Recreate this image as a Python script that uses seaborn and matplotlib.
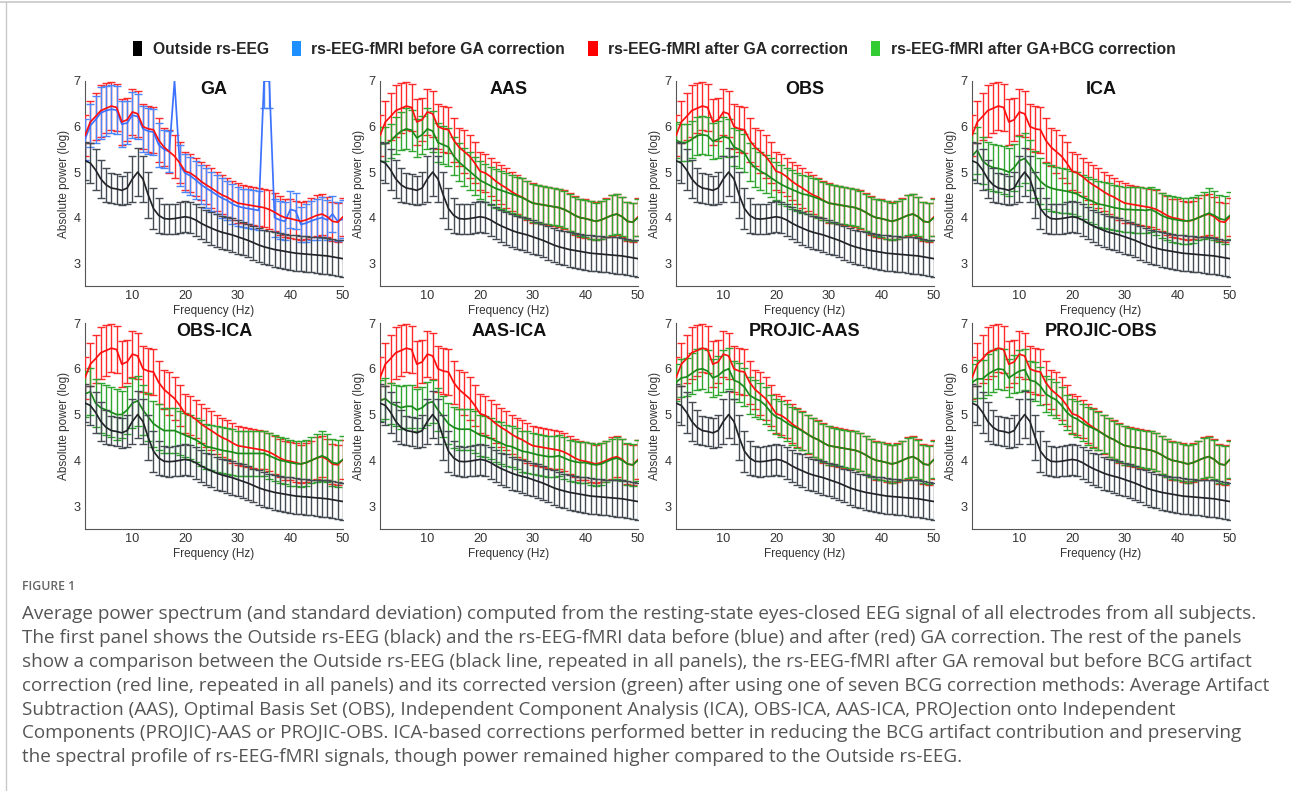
import numpy as np
import pandas as pd
import matplotlib
matplotlib.use("Agg")
import matplotlib.pyplot as plt
import seaborn as sns
from matplotlib.patches import Patch
from matplotlib.lines import Line2D

# --- data (log absolute power, 1..50 Hz) ---
freqs = list(range(1, 51))

outside_mean = [5.25, 5.2, 5.05, 4.85, 4.72, 4.65, 4.63, 4.6, 4.65, 4.85,
                5.0, 4.85, 4.5, 4.2, 4.05, 3.98, 3.97, 3.98, 4.0, 4.02,
                4.0, 3.95, 3.88, 3.82, 3.77, 3.72, 3.68, 3.65, 3.62, 3.58,
                3.54, 3.5, 3.45, 3.4, 3.36, 3.33, 3.3, 3.28, 3.26, 3.24,
                3.22, 3.21, 3.2, 3.19, 3.18, 3.17, 3.16, 3.14, 3.12, 3.1]
outside_sd = [0.42, 0.43, 0.45, 0.42, 0.37, 0.32, 0.32, 0.32, 0.35, 0.5,
              0.52, 0.5, 0.5, 0.45, 0.38, 0.33, 0.33, 0.33, 0.34, 0.34,
              0.34, 0.35, 0.35, 0.35, 0.36, 0.36, 0.36, 0.36, 0.37, 0.37,
              0.37, 0.37, 0.37, 0.38, 0.38, 0.38, 0.38, 0.38, 0.38, 0.39,
              0.39, 0.39, 0.39, 0.39, 0.39, 0.4, 0.4, 0.4, 0.4, 0.4]

after_ga_mean = [5.8, 6.1, 6.22, 6.35, 6.4, 6.45, 6.42, 6.1, 6.15, 6.32,
                 6.28, 6.0, 5.95, 5.93, 5.7, 5.55, 5.45, 5.35, 5.2, 5.02,
                 4.98, 4.9, 4.8, 4.72, 4.65, 4.57, 4.5, 4.45, 4.38, 4.32,
                 4.3, 4.28, 4.26, 4.24, 4.22, 4.18, 4.12, 4.05, 4.0, 3.98,
                 3.95, 3.92, 3.95, 4.0, 4.05, 4.08, 4.02, 3.92, 3.9, 4.02]
after_ga_sd = [0.45, 0.47, 0.52, 0.57, 0.55, 0.53, 0.52, 0.5, 0.47, 0.5,
               0.5, 0.5, 0.5, 0.5, 0.48, 0.42, 0.47, 0.47, 0.45, 0.42,
               0.42, 0.42, 0.42, 0.43, 0.43, 0.43, 0.43, 0.43, 0.43, 0.43,
               0.42, 0.42, 0.42, 0.42, 0.42, 0.42, 0.42, 0.42, 0.42, 0.42,
               0.42, 0.42, 0.42, 0.43, 0.45, 0.45, 0.44, 0.43, 0.43, 0.42]

before_ga_mean = [5.72, 6.02, 6.15, 6.3, 6.35, 6.38, 6.36, 6.05, 6.08, 6.25,
                  6.22, 5.95, 5.9, 5.88, 5.6, 5.5, 5.45, 7.0, 5.15, 4.98,
                  4.92, 4.83, 4.73, 4.65, 4.58, 4.5, 4.43, 4.38, 4.3, 4.25,
                  4.22, 4.2, 4.18, 4.16, 7.0, 7.0, 4.0, 3.95, 3.92, 4.18,
                  4.15, 3.85, 3.88, 3.93, 3.97, 4.0, 3.95, 4.08, 3.92, 3.97]
before_ga_sd = [0.45, 0.47, 0.52, 0.57, 0.55, 0.53, 0.52, 0.5, 0.47, 0.5,
                0.5, 0.5, 0.5, 0.5, 0.48, 0.42, 0.45, np.nan, 0.45, 0.42,
                0.42, 0.42, 0.42, 0.43, 0.43, 0.43, 0.43, 0.43, 0.43, 0.43,
                0.42, 0.42, 0.42, 0.42, 0.6, 0.6, 0.42, 0.42, 0.42, 0.4,
                0.4, 0.38, 0.42, 0.43, 0.45, 0.45, 0.44, 0.4, 0.43, 0.42]

aas_mean = [5.62, 5.62, 5.68, 5.8, 5.9, 5.95, 5.92, 5.75, 5.82, 5.95,
            5.9, 5.65, 5.6, 5.55, 5.35, 5.22, 5.12, 5.02, 4.92, 4.82,
            4.76, 4.7, 4.64, 4.6, 4.56, 4.52, 4.48, 4.44, 4.38, 4.32,
            4.3, 4.28, 4.26, 4.24, 4.22, 4.18, 4.12, 4.05, 4.0, 3.98,
            3.95, 3.92, 3.95, 4.0, 4.05, 4.08, 4.02, 3.92, 3.9, 4.0]
aas_sd = [0.38, 0.38, 0.38, 0.4, 0.42, 0.45, 0.45, 0.42, 0.42, 0.45,
          0.45, 0.42, 0.42, 0.42, 0.42, 0.42, 0.42, 0.42, 0.42, 0.42,
          0.42, 0.42, 0.42, 0.42, 0.42, 0.42, 0.42, 0.42, 0.42, 0.42,
          0.41, 0.41, 0.41, 0.41, 0.41, 0.41, 0.41, 0.41, 0.41, 0.41,
          0.41, 0.41, 0.41, 0.42, 0.44, 0.44, 0.43, 0.42, 0.42, 0.41]

obs_mean = [5.7, 5.65, 5.65, 5.72, 5.8, 5.82, 5.8, 5.68, 5.72, 5.78,
            5.75, 5.55, 5.5, 5.42, 5.22, 5.1, 5.02, 4.96, 4.88, 4.8,
            4.73, 4.67, 4.62, 4.57, 4.52, 4.5, 4.46, 4.42, 4.37, 4.32,
            4.3, 4.28, 4.26, 4.24, 4.22, 4.18, 4.12, 4.05, 4.0, 3.98,
            3.95, 3.92, 3.95, 4.0, 4.05, 4.08, 4.02, 3.92, 3.9, 4.0]
obs_sd = [0.4, 0.4, 0.4, 0.4, 0.42, 0.42, 0.42, 0.4, 0.4, 0.42,
          0.42, 0.42, 0.42, 0.42, 0.42, 0.42, 0.42, 0.42, 0.42, 0.42,
          0.42, 0.42, 0.42, 0.42, 0.42, 0.42, 0.42, 0.42, 0.42, 0.42,
          0.41, 0.41, 0.41, 0.41, 0.41, 0.41, 0.41, 0.41, 0.41, 0.41,
          0.41, 0.41, 0.41, 0.42, 0.44, 0.44, 0.43, 0.42, 0.42, 0.41]

ica_mean = [5.35, 5.48, 5.25, 5.15, 5.1, 5.08, 5.05, 5.0, 5.1, 5.25,
            5.3, 5.15, 4.95, 4.8, 4.7, 4.65, 4.62, 4.6, 4.58, 4.55,
            4.52, 4.45, 4.4, 4.35, 4.3, 4.28, 4.25, 4.22, 4.2, 4.18,
            4.18, 4.17, 4.17, 4.16, 4.18, 4.12, 4.05, 4.0, 3.97, 3.95,
            3.93, 3.93, 3.95, 4.0, 4.05, 4.1, 4.05, 3.98, 3.95, 4.05]
ica_sd = [0.5, 0.52, 0.52, 0.52, 0.52, 0.52, 0.52, 0.52, 0.52, 0.55,
          0.55, 0.55, 0.52, 0.5, 0.5, 0.5, 0.5, 0.5, 0.48, 0.48,
          0.48, 0.48, 0.5, 0.5, 0.5, 0.5, 0.5, 0.5, 0.5, 0.5,
          0.5, 0.5, 0.5, 0.5, 0.5, 0.5, 0.5, 0.5, 0.5, 0.5,
          0.5, 0.5, 0.5, 0.5, 0.52, 0.55, 0.53, 0.52, 0.52, 0.52]

obs_ica_mean = [5.45, 5.5, 5.25, 5.15, 5.1, 5.05, 5.0, 5.0, 5.1, 5.25,
                5.3, 5.1, 4.95, 4.8, 4.72, 4.65, 4.65, 4.65, 4.6, 4.55,
                4.5, 4.45, 4.38, 4.3, 4.28, 4.25, 4.22, 4.2, 4.18, 4.15,
                4.15, 4.15, 4.15, 4.15, 4.15, 4.1, 4.05, 4.0, 3.98, 3.95,
                3.93, 3.92, 3.95, 4.0, 4.05, 4.1, 4.05, 3.95, 3.93, 4.02]
obs_ica_sd = [0.5, 0.52, 0.52, 0.55, 0.55, 0.55, 0.55, 0.52, 0.52, 0.55,
              0.55, 0.55, 0.52, 0.5, 0.5, 0.5, 0.5, 0.5, 0.48, 0.48,
              0.48, 0.48, 0.5, 0.5, 0.5, 0.5, 0.5, 0.5, 0.5, 0.5,
              0.5, 0.5, 0.5, 0.5, 0.5, 0.5, 0.5, 0.5, 0.5, 0.5,
              0.5, 0.5, 0.5, 0.5, 0.52, 0.55, 0.53, 0.52, 0.52, 0.52]

aas_ica_mean = [5.3, 5.35, 5.25, 5.2, 5.15, 5.18, 5.18, 5.1, 5.15, 5.25,
                5.28, 5.1, 4.95, 4.8, 4.72, 4.68, 4.68, 4.68, 4.62, 4.55,
                4.52, 4.48, 4.42, 4.38, 4.32, 4.3, 4.25, 4.2, 4.18, 4.15,
                4.12, 4.1, 4.08, 4.08, 4.1, 4.05, 4.0, 3.97, 3.95, 3.95,
                3.92, 3.9, 3.92, 3.97, 4.02, 4.05, 4.0, 3.92, 3.9, 4.0]
aas_ica_sd = [0.45, 0.45, 0.45, 0.45, 0.47, 0.47, 0.47, 0.45, 0.45, 0.47,
              0.47, 0.47, 0.45, 0.45, 0.45, 0.45, 0.45, 0.45, 0.45, 0.45,
              0.45, 0.45, 0.45, 0.45, 0.45, 0.45, 0.45, 0.45, 0.45, 0.45,
              0.45, 0.45, 0.45, 0.45, 0.45, 0.45, 0.45, 0.45, 0.45, 0.45,
              0.45, 0.45, 0.45, 0.45, 0.45, 0.46, 0.46, 0.46, 0.46, 0.45]

projic_aas_mean = [5.7, 5.8, 5.82, 5.9, 5.98, 6.0, 5.95, 5.8, 5.85, 5.95,
                   6.0, 5.75, 5.7, 5.6, 5.42, 5.35, 5.3, 5.2, 5.05, 4.95,
                   4.9, 4.82, 4.75, 4.7, 4.64, 4.57, 4.5, 4.45, 4.38, 4.32,
                   4.3, 4.28, 4.26, 4.24, 4.22, 4.18, 4.12, 4.05, 4.0, 3.98,
                   3.95, 3.92, 3.95, 4.0, 4.05, 4.08, 4.02, 3.92, 3.9, 4.02]
projic_aas_sd = [0.4, 0.42, 0.42, 0.45, 0.45, 0.45, 0.45, 0.42, 0.42, 0.45,
                 0.45, 0.42, 0.42, 0.42, 0.4, 0.4, 0.4, 0.4, 0.38, 0.38,
                 0.4, 0.4, 0.42, 0.42, 0.42, 0.42, 0.42, 0.42, 0.42, 0.42,
                 0.41, 0.41, 0.41, 0.41, 0.41, 0.41, 0.41, 0.41, 0.41, 0.41,
                 0.41, 0.41, 0.41, 0.42, 0.44, 0.44, 0.43, 0.42, 0.42, 0.41]

projic_obs_mean = [5.7, 5.78, 5.78, 5.88, 5.95, 6.0, 5.98, 5.8, 5.88, 5.95,
                   5.98, 5.75, 5.72, 5.62, 5.45, 5.38, 5.32, 5.2, 5.05, 4.95,
                   4.9, 4.82, 4.75, 4.7, 4.64, 4.57, 4.5, 4.45, 4.38, 4.32,
                   4.3, 4.28, 4.26, 4.24, 4.22, 4.18, 4.12, 4.05, 4.0, 3.98,
                   3.95, 3.92, 3.95, 4.0, 4.05, 4.08, 4.02, 3.92, 3.9, 4.02]
projic_obs_sd = [0.4, 0.42, 0.42, 0.45, 0.45, 0.45, 0.45, 0.42, 0.42, 0.45,
                 0.45, 0.42, 0.42, 0.42, 0.4, 0.4, 0.4, 0.4, 0.38, 0.38,
                 0.4, 0.4, 0.42, 0.42, 0.42, 0.42, 0.42, 0.42, 0.42, 0.42,
                 0.41, 0.41, 0.41, 0.41, 0.41, 0.41, 0.41, 0.41, 0.41, 0.41,
                 0.41, 0.41, 0.41, 0.42, 0.44, 0.44, 0.43, 0.42, 0.42, 0.41]

panel_titles = ["GA", "AAS", "OBS", "ICA", "OBS-ICA", "AAS-ICA", "PROJIC-AAS", "PROJIC-OBS"]
green_series = {
    "AAS": (aas_mean, aas_sd),
    "OBS": (obs_mean, obs_sd),
    "ICA": (ica_mean, ica_sd),
    "OBS-ICA": (obs_ica_mean, obs_ica_sd),
    "AAS-ICA": (aas_ica_mean, aas_ica_sd),
    "PROJIC-AAS": (projic_aas_mean, projic_aas_sd),
    "PROJIC-OBS": (projic_obs_mean, projic_obs_sd),
}
legend_labels = ["Outside rs-EEG", "rs-EEG-fMRI before GA correction",
                 "rs-EEG-fMRI after GA correction", "rs-EEG-fMRI after GA+BCG correction"]

caption_lines = [
    "Average power spectrum (and standard deviation) computed from the resting-state eyes-closed EEG signal of all electrodes from all subjects.",
    "The first panel shows the Outside rs-EEG (black) and the rs-EEG-fMRI data before (blue) and after (red) GA correction. The rest of the panels",
    "show a comparison between the Outside rs-EEG (black line, repeated in all panels), the rs-EEG-fMRI after GA removal but before BCG artifact",
    "correction (red line, repeated in all panels) and its corrected version (green) after using one of seven BCG correction methods: Average Artifact",
    "Subtraction (AAS), Optimal Basis Set (OBS), Independent Component Analysis (ICA), OBS-ICA, AAS-ICA, PROJection onto Independent",
    "Components (PROJIC)-AAS or PROJIC-OBS. ICA-based corrections performed better in reducing the BCG artifact contribution and preserving",
    "the spectral profile of rs-EEG-fMRI signals, though power remained higher compared to the Outside rs-EEG.",
]

# colours: (line, bars)
C_BLACK = ("#22262a", "#454b52")
C_BLUE = ("#3d72ff", "#4a86ff")
C_RED = ("#ff1010", "#ff2a2a")
C_GREEN = ("#1a8a1a", "#30a530")


def draw_series(ax, mean, sd, colors, z_bars, z_line):
    df = pd.DataFrame({"freq": freqs, "power": mean})
    sns.lineplot(data=df, x="freq", y="power", ax=ax, color=colors[0],
                 lw=1.25, zorder=z_line, legend=False)
    err = np.array(sd, dtype=float)
    ok = np.isfinite(err)
    ax.errorbar(np.array(freqs)[ok], np.array(mean)[ok], yerr=err[ok], fmt="none",
                ecolor=colors[1], elinewidth=1.0, capsize=2.8, capthick=1.0, zorder=z_bars)


sns.set_theme(style="white")
plt.rcParams["font.family"] = ["Liberation Sans", "DejaVu Sans"]

fig = plt.figure(figsize=(12.91, 7.91), dpi=100)
W, H = 1291.0, 791.0

col_left = [85, 380, 676, 972]
row_box = [(81, 286), (323, 529)]  # (top px, bottom px)
ax_w = 258

for i, title in enumerate(panel_titles):
    r, c = divmod(i, 4)
    top, bot = row_box[r]
    ax = fig.add_axes([col_left[c] / W, 1 - bot / H, ax_w / W, (bot - top) / H])

    if title == "GA":
        draw_series(ax, after_ga_mean, after_ga_sd, C_RED, 3, 5.5)
        draw_series(ax, before_ga_mean, before_ga_sd, C_BLUE, 4, 5)
    else:
        gm, gs = green_series[title]
        draw_series(ax, after_ga_mean, after_ga_sd, C_RED, 3, 4.5)
        draw_series(ax, gm, gs, C_GREEN, 4, 5)
    draw_series(ax, outside_mean, outside_sd, C_BLACK, 7, 8)

    ax.set_xlim(1, 50)
    ax.set_ylim(2.5, 7)
    ax.set_xticks([10, 20, 30, 40, 50])
    ax.set_yticks([3, 4, 5, 6, 7])
    ax.set_xlabel("Frequency (Hz)", fontsize=8.5, color="#333333", labelpad=2)
    ax.set_ylabel("Absolute power (log)", fontsize=8.5, color="#333333", labelpad=3)
    ax.tick_params(axis="both", labelsize=9.2, colors="#333333", direction="in",
                   length=2, width=0.6, pad=3)
    for s in ["top", "right"]:
        ax.spines[s].set_visible(False)
    for s in ["left", "bottom"]:
        ax.spines[s].set_color("#555555")
        ax.spines[s].set_linewidth(0.8)
    ax.text(0.5, 1.0, title, transform=ax.transAxes, ha="center", va="top",
            fontsize=13, fontweight="bold", color="#111111")

handles = [Patch(facecolor=col, edgecolor="none") for col in
           ["#000000", "#1e90ff", "#ff0000", "#33cc33"]]
fig.legend(handles, legend_labels, loc="center", bbox_to_anchor=(654 / W, 1 - 49 / H),
           ncol=4, frameon=False, prop={"weight": "bold", "size": 11.3},
           handlelength=0.62, handleheight=1.05, handletextpad=0.65, columnspacing=1.45)

# caption block
fig.text(22 / W, 1 - 587 / H, "FIGURE 1", fontsize=8.8, color="#666666",
         fontweight="semibold", family=["Open Sans", "DejaVu Sans"], va="center")
for k, line in enumerate(caption_lines):
    fig.text(22 / W, 1 - (614 + k * 23.9) / H, line, fontsize=13.6, color="#555555",
             family=["Open Sans", "DejaVu Sans"], va="center")

# page frame lines
fig.add_artist(Line2D([0, 1], [1 - 2 / H, 1 - 2 / H], transform=fig.transFigure,
                      color="#c8c8c8", lw=1.2))
fig.add_artist(Line2D([6 / W, 6 / W], [0, 1 - 2 / H], transform=fig.transFigure,
                      color="#c8c8c8", lw=1.0))

fig.savefig("out.png", dpi=100)
